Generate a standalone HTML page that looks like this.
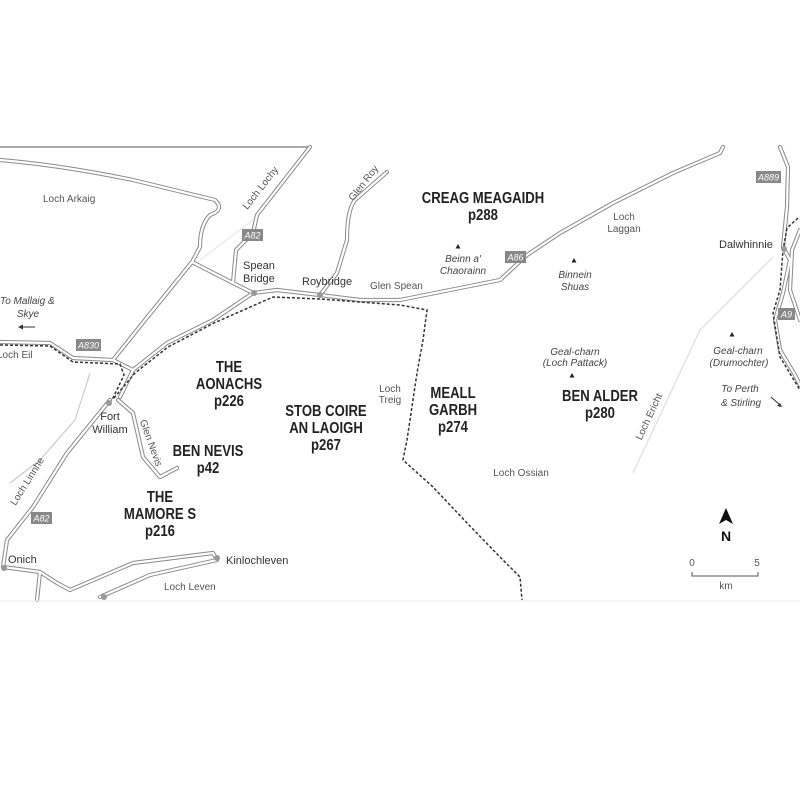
<!DOCTYPE html>
<html><head><meta charset="utf-8"><style>
html,body{margin:0;padding:0;background:#fff}
svg{display:block}
.r1{fill:none;stroke:#8a8a8a;stroke-width:4.2;stroke-linejoin:round;stroke-linecap:round}
.r2{fill:none;stroke:#fff;stroke-width:2.2;stroke-linejoin:round;stroke-linecap:round}
.rail{fill:none;stroke:#333;stroke-width:1.5;stroke-dasharray:3,2}
.t{font-family:"Liberation Sans",sans-serif;font-size:10px;fill:#555}
.tw{font-family:"Liberation Sans",sans-serif;font-size:11px;fill:#333}
.i{font-family:"Liberation Sans",sans-serif;font-size:10px;font-style:italic;fill:#444}
.b{font-family:"Liberation Sans",sans-serif;font-size:16px;font-weight:bold;fill:#222;text-anchor:middle}
.bd{fill:#888}
.bt{font-family:"Liberation Sans",sans-serif;font-size:9px;font-style:italic;fill:#fff;text-anchor:middle}
</style></head><body>
<svg width="800" height="800" viewBox="0 0 800 800" xmlns="http://www.w3.org/2000/svg">
<rect width="800" height="800" fill="#fff"/>
<defs>
<path id="p1" d="M310 147 L257 215 L253 233 L236 250 L233 283 L253 293"/>
<path id="p2" d="M0 160 Q60 165 133 180 L215 200 Q225 210 210 215 Q200 225 200 247 L192 262 L145 320 L113 360"/>
<path id="p3" d="M192 262 L233 283"/>
<path id="p4" d="M387 172 L355 200 Q347 210 347 240 L337 273 L320 295"/>
<path id="p5" d="M253 293 L277 290 L320 295 L360 300 L400 300 L500 280 L527 255 L560 233 L613 203 L673 173 L720 153 L723 147"/>
<path id="p6" d="M0 342 L50 343 L73 358 L113 360 L133 370 L120 397"/>
<path id="p7" d="M133 370 L167 343 L213 320 L253 293"/>
<path id="p8" d="M110 400 L67 453 L33 507 L7 540 L3 567"/>
<path id="p9" d="M118 400 L133 413 L143 457 L160 477 L177 468"/>
<path id="p10" d="M3 567 L40 572 L57 583 L70 590 L133 563 L213 553 L217 560 L150 575 L100 597"/>
<path id="p11" d="M40 572 L37 600"/>
<path id="p12" d="M780 147 L788 167 L787 207 L783 247 L790 260 L783 293 L775 320 L780 350 L795 375 L800 385"/>
<path id="p13" d="M800 230 L792 250 L790 290 L800 320"/>
</defs>
<line x1="0" y1="147" x2="310" y2="147" stroke="#555" stroke-width="1"/>
<path d="M773 257 L700 330 L633 473" fill="none" stroke="#ddd" stroke-width="1.2"/>
<path d="M90 373 L75 420 L40 460 L10 483" fill="none" stroke="#ccc" stroke-width="1.2"/>
<path d="M253 220 L200 260" fill="none" stroke="#e3e3e3" stroke-width="1"/>
<g class="r1"><use href="#p1"/><use href="#p2"/><use href="#p3"/><use href="#p4"/><use href="#p5"/><use href="#p6"/><use href="#p7"/><use href="#p8"/><use href="#p9"/><use href="#p10"/><use href="#p11"/><use href="#p12"/><use href="#p13"/></g>
<g class="r2"><use href="#p1"/><use href="#p2"/><use href="#p3"/><use href="#p4"/><use href="#p5"/><use href="#p6"/><use href="#p7"/><use href="#p8"/><use href="#p9"/><use href="#p10"/><use href="#p11"/><use href="#p12"/><use href="#p13"/></g>
<path class="rail" d="M0 345 L50 346 L73 362 L120 364 L124 375 L112 400"/>
<path class="rail" d="M114 398 L135 373 L168 347 L214 323 L273 297 L320 299 L400 305 L427 310 L423 340 L417 373 L407 440 L403 460 L433 487 L467 523 L500 557 L520 577 L522 600"/>
<path class="rail" d="M798 218 L787 228 L783 250 L780 290 L773 313 L780 357 L800 390" stroke-dasharray="5,3" stroke-width="1.6"/>
<g fill="#999"><circle cx="254" cy="293" r="3"/><circle cx="320" cy="295" r="3"/><circle cx="109" cy="403" r="3"/><circle cx="4" cy="568" r="3"/><circle cx="217" cy="558" r="3"/><circle cx="104" cy="597" r="3"/><circle cx="784" cy="249" r="3"/></g>
<rect class="bd" x="242" y="229" width="21" height="12"/><text class="bt" x="252.5" y="238.5">A82</text>
<rect class="bd" x="76" y="339" width="25" height="12"/><text class="bt" x="88.5" y="348.5">A830</text>
<rect class="bd" x="31" y="512" width="21" height="12"/><text class="bt" x="41.5" y="521.5">A82</text>
<rect class="bd" x="505" y="251" width="21" height="12"/><text class="bt" x="515.5" y="260.5">A86</text>
<rect class="bd" x="756" y="171" width="25" height="12"/><text class="bt" x="768.5" y="180.5">A889</text>
<rect class="bd" x="778" y="308" width="17" height="12"/><text class="bt" x="786.5" y="317.5">A9</text>
<text class="t" x="43" y="202">Loch Arkaig</text>
<text class="t" transform="translate(263,190) rotate(-52)" text-anchor="middle">Loch Lochy</text>
<text class="t" transform="translate(366,185) rotate(-52)" text-anchor="middle" font-size="9">Glen Roy</text>
<text class="tw" x="243" y="269">Spean</text><text class="tw" x="243" y="282">Bridge</text>
<text class="tw" x="302" y="285">Roybridge</text>
<text class="t" x="370" y="289">Glen  Spean</text>
<text class="i" x="0" y="304" font-size="11">To Mallaig &amp;</text>
<text class="i" x="28" y="317" font-size="11" text-anchor="middle">Skye</text>
<path d="M20 327 H35" stroke="#333" stroke-width="1"/><path d="M18 327 l5 -2.5 v5z" fill="#333"/>
<text class="t" x="-3" y="358">Loch Eil</text>
<text class="tw" x="110" y="420" text-anchor="middle">Fort</text><text class="tw" x="110" y="433" text-anchor="middle">William</text>
<text class="t" transform="translate(148,444) rotate(70)" text-anchor="middle" font-size="9">Glen Nevis</text>
<text class="t" transform="translate(30,483) rotate(-58)" text-anchor="middle">Loch Linnhe</text>
<text class="tw" x="8" y="563">Onich</text>
<text class="tw" x="226" y="564">Kinlochleven</text>
<text class="t" x="164" y="590">Loch Leven</text>
<g transform="translate(229,0) scale(0.82,1)"><text class="b" x="0" y="372">THE</text><text class="b" x="0" y="389">AONACHS</text><text class="b" x="0" y="406">p226</text></g>
<g transform="translate(208,0) scale(0.82,1)"><text class="b" x="0" y="456">BEN NEVIS</text><text class="b" x="0" y="473">p42</text></g>
<g transform="translate(160,0) scale(0.82,1)"><text class="b" x="0" y="502">THE</text><text class="b" x="0" y="519">MAMORE S</text><text class="b" x="0" y="536">p216</text></g>
<g transform="translate(326,0) scale(0.82,1)"><text class="b" x="0" y="416">STOB COIRE</text><text class="b" x="0" y="433">AN LAOIGH</text><text class="b" x="0" y="450">p267</text></g>
<text class="t" x="390" y="392" font-size="9" text-anchor="middle">Loch</text><text class="t" x="390" y="403" font-size="9" text-anchor="middle">Treig</text>
<g transform="translate(453,0) scale(0.82,1)"><text class="b" x="0" y="398">MEALL</text><text class="b" x="0" y="415">GARBH</text><text class="b" x="0" y="432">p274</text></g>
<g transform="translate(483,0) scale(0.82,1)"><text class="b" x="0" y="203">CREAG MEAGAIDH</text><text class="b" x="0" y="220">p288</text></g>
<path d="M458 244 l-2.5 4.5 h5z" fill="#222"/>
<text class="i" x="463" y="262" text-anchor="middle">Beinn a'</text><text class="i" x="463" y="274" text-anchor="middle">Chaorainn</text>
<text class="t" x="624" y="220" text-anchor="middle">Loch</text><text class="t" x="624" y="232" text-anchor="middle">Laggan</text>
<path d="M574 258 l-2.5 4.5 h5z" fill="#222"/>
<text class="i" x="575" y="278" text-anchor="middle">Binnein</text><text class="i" x="575" y="290" text-anchor="middle">Shuas</text>
<text class="tw" x="719" y="248">Dalwhinnie</text>
<text class="i" x="575" y="355" text-anchor="middle">Geal-charn</text><text class="i" x="575" y="366" text-anchor="middle">(Loch Pattack)</text>
<path d="M572 373 l-2.5 4.5 h5z" fill="#222"/>
<g transform="translate(600,0) scale(0.82,1)"><text class="b" x="0" y="401">BEN ALDER</text><text class="b" x="0" y="418">p280</text></g>
<path d="M732 332 l-2.5 4.5 h5z" fill="#222"/>
<text class="i" x="738" y="354" text-anchor="middle">Geal-charn</text><text class="i" x="739" y="366" text-anchor="middle">(Drumochter)</text>
<text class="i" x="740" y="392" font-size="11" text-anchor="middle">To Perth</text><text class="i" x="741" y="406" font-size="11" text-anchor="middle">&amp; Stirling</text>
<path d="M771 397 L780 405" stroke="#333" stroke-width="1"/><path d="M782 407 l-5 -1 l3 -3z" fill="#333"/>
<text class="t" transform="translate(652,418) rotate(-65)" text-anchor="middle" font-size="9">Loch  Ericht</text>
<text class="t" x="521" y="476" text-anchor="middle">Loch Ossian</text>
<path d="M726 508 L719 524 L726 520 L733 524 Z" fill="#111"/>
<text x="726" y="541" text-anchor="middle" font-family="Liberation Sans,sans-serif" font-weight="bold" font-size="14" fill="#111">N</text>
<text class="t" x="692" y="566" text-anchor="middle">0</text><text class="t" x="757" y="566" text-anchor="middle">5</text>
<path d="M692 572 V576 H758 V572" fill="none" stroke="#555" stroke-width="1"/>
<text class="t" x="726" y="589" text-anchor="middle" font-size="9">km</text>
<line x1="0" y1="601" x2="800" y2="601" stroke="#eee" stroke-width="1"/>
</svg>
</body></html>
